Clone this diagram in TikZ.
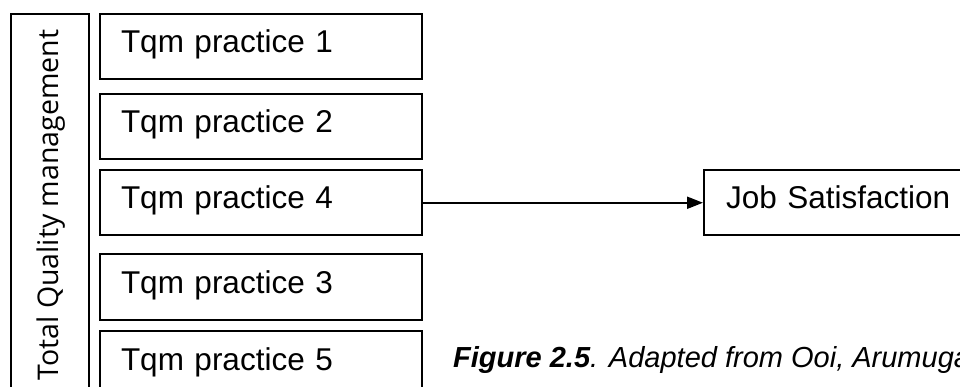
\documentclass[tikz,border=0pt]{standalone}
\usepackage{fontspec}
\setmainfont{Liberation Sans}
\newfontfamily\sidefont{Open Sans}
\usetikzlibrary{arrows.meta,positioning}

\begin{document}
\begin{tikzpicture}[x=1pt,y=-1pt,
  box/.style={draw=black,line width=2pt,anchor=north west,inner xsep=21pt,inner ysep=0pt,
    text width=280pt,align=left,text height=39pt,text depth=26.5pt,font=\fontsize{31.5}{36}\selectfont},
  side/.style={draw=black,line width=2pt,anchor=north west,inner sep=0pt,minimum width=78pt,minimum height=400pt}]
\useasboundingbox (0,0) rectangle (960,387);

\node[side] (tqm) at (10,13) {};
\node[rotate=90,inner sep=0pt,font=\sidefont\fontsize{28.5}{34}\selectfont] (tqmtext) at (51,205) {Total Quality management};

\node[box] (p1) at (99,13) {Tqm practice 1};
\node[box] (p2) at (99,93) {Tqm practice 2};
\node[box] (p4) at (99,169) {Tqm practice 4};
\node[box] (p3) at (99,253) {Tqm practice 3};
\node[box] (p5) at (99,330) {Tqm practice 5};

\node[box,inner xsep=22pt] (job) at (703,169) {Job Satisfaction};
\draw[line width=2pt,-{Triangle[length=16pt,width=12pt]}] (p4) -- (job);

\node[anchor=base west,inner sep=0pt,font=\itshape\fontsize{29}{34}\selectfont] (caption) at (453,367)
  {\textbf{Figure 2.5}. Adapted from Ooi, Arumuga};
\end{tikzpicture}
\end{document}
